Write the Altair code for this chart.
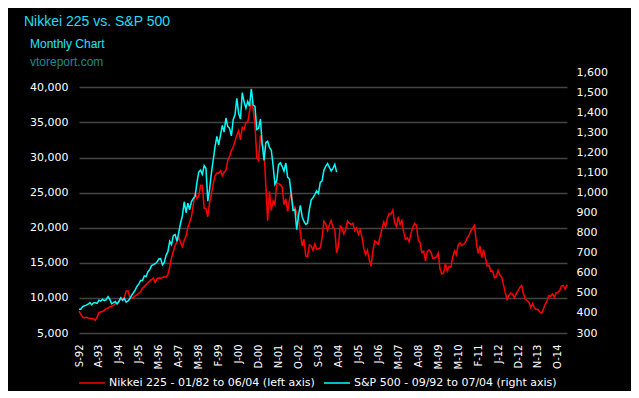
import altair as alt
import pandas as pd

x_labels = ["S-92", "A-93", "J-94", "J-95", "M-96", "A-97", "M-98", "F-99", "J-00",
            "D-00", "N-01", "O-02", "S-03", "A-04", "J-05", "J-06", "M-07", "A-08",
            "M-09", "M-10", "F-11", "J-12", "D-12", "N-13", "O-14"]

# Nikkei 225, monthly, 01/82 .. 06/04 (left axis)
nikkei = [
    8100, 7700, 7250, 7150, 7250, 7150, 7100, 7050, 7000, 6800, 7300, 7900,
    8000, 8050, 8250, 8450, 8550, 8750, 8800, 8950, 9150, 9250, 9450, 9850,
    9900, 10100, 10950, 11000, 10100, 9950, 10050, 10300, 10450, 10650, 10900, 11400,
    11600, 11900, 12200, 12400, 12600, 12800, 12200, 12750, 12850, 12800, 12900, 13050,
    12950, 13300, 14400, 15700, 16600, 17500, 18000, 18700, 17900, 17300, 18200, 18800,
    20048, 20767, 21567, 23275, 25000, 24176, 24488, 26029, 26011, 22765, 22686, 21564,
    23622, 24800, 26260, 27400, 27800, 27769, 28100, 27400, 27900, 28200, 29579, 30159,
    31000, 31500, 32300, 33200, 33800, 32500, 34300, 34000, 35000, 35000, 36600, 37800,
    37000, 34592, 29980, 29585, 33131, 31940, 31036, 25978, 20984, 25194, 22455, 23849,
    23293, 26409, 26292, 26111, 25790, 23291, 24121, 22336, 23916, 25222, 22687, 22984,
    22023, 21339, 19346, 17390, 18348, 15951, 15910, 17555, 17399, 16767, 17684, 16925,
    17024, 17113, 18591, 20919, 20552, 19590, 20380, 21027, 20106, 19703, 16408, 17417,
    20229, 19997, 19112, 19725, 20974, 20644, 20462, 20629, 19564, 19990, 19076, 19723,
    18650, 17053, 16140, 16807, 15437, 14517, 16678, 18117, 17913, 17655, 18744, 19868,
    20813, 20125, 21407, 22041, 21956, 22531, 20693, 20167, 21556, 20467, 21020, 19361,
    18330, 18557, 18003, 19151, 20068, 20605, 20331, 18229, 17888, 16459, 16636, 15259,
    16628, 16832, 16527, 15641, 15671, 15830, 16379, 14108, 13406, 13564, 14884, 13842,
    14499, 14368, 15837, 16701, 16112, 17530, 17862, 17437, 17605, 17942, 18558, 18934,
    19540, 19959, 20337, 17974, 16332, 17411, 15727, 16861, 15747, 14539, 14649, 13786,
    13843, 12884, 12999, 13934, 13262, 12969, 11861, 10714, 9775, 10367, 10697, 10543,
    9998, 10588, 11025, 11493, 11764, 10622, 9877, 9619, 9383, 8640, 9216, 8579,
    8340, 8363, 7973, 7831, 8425, 9083, 9563, 10344, 10219, 10560, 10101, 10677,
    10784, 11041, 11715, 11762, 11236, 11858,
]

# S&P 500, monthly, 09/92 .. 07/04 (right axis)
sp500 = [
    417.80, 418.68, 431.35, 435.71,
    438.78, 443.38, 451.67, 440.19, 450.19, 450.53, 448.13, 463.56, 458.93, 467.83, 461.79, 466.45,
    481.61, 467.14, 445.77, 450.91, 456.50, 444.27, 458.26, 475.49, 462.69, 472.35, 453.69, 459.27,
    470.42, 487.39, 500.71, 514.71, 533.40, 544.75, 562.06, 561.88, 584.41, 581.50, 605.37, 615.93,
    636.02, 640.43, 645.50, 654.17, 669.12, 670.63, 639.95, 651.99, 687.31, 705.27, 757.02, 740.74,
    786.16, 790.82, 757.12, 801.34, 848.28, 885.14, 954.29, 899.47, 947.28, 914.62, 955.40, 970.43,
    980.28, 1049.34, 1101.75, 1111.75, 1090.82, 1133.84, 1120.67, 957.28, 1017.01, 1098.67, 1163.63, 1229.23,
    1279.64, 1238.33, 1286.37, 1335.18, 1301.84, 1372.71, 1328.72, 1320.41, 1282.71, 1362.93, 1388.91, 1469.25,
    1394.46, 1366.42, 1498.58, 1452.43, 1420.60, 1454.60, 1430.83, 1517.68, 1436.51, 1429.40, 1314.95, 1320.28,
    1366.01, 1239.94, 1160.33, 1249.46, 1255.82, 1224.42, 1211.23, 1133.58, 1040.94, 1059.78, 1139.45, 1148.08,
    1130.20, 1106.73, 1147.39, 1076.92, 1067.14, 989.82, 911.62, 916.07, 815.28, 885.76, 936.31, 879.82,
    855.70, 841.15, 848.18, 916.92, 963.59, 974.50, 990.31, 1008.01, 995.97, 1050.71, 1058.20, 1111.92,
    1131.13, 1144.94, 1126.21, 1107.30, 1120.68, 1140.84, 1101.72,
]

NIK = "Nikkei 225 - 01/82 to 06/04 (left axis)"
SPX = "S&P 500 - 09/92 to 07/04 (right axis)"

nik_df = pd.DataFrame({"m": range(len(nikkei)), "v": nikkei, "s": NIK})
spx_df = pd.DataFrame({"m": range(len(sp500)), "v": sp500, "s": SPX})

label_expr = "[" + ",".join("'%s'" % t for t in x_labels) + "][round(datum.value / 11)]"

AX_FONT = "DejaVu Sans"
xenc = alt.X(
    "m:Q",
    scale=alt.Scale(domain=[0, 269], nice=False, zero=False),
    axis=alt.Axis(values=[11 * k for k in range(len(x_labels))], labelExpr=label_expr,
                  labelAngle=270, grid=False, domain=False, ticks=False, labelPadding=11,
                  labelFontSize=10, labelFont=AX_FONT, labelColor="#FFFFFF",
                  labelOverlap=False, labelFlush=False, title=None),
)

color = alt.Color(
    "s:N",
    scale=alt.Scale(domain=[NIK, SPX], range=["#FF0000", "#00FFFF"]),
    legend=alt.Legend(orient="none", legendX=-1, legendY=297, direction="horizontal",
                      title=None, symbolType="stroke", symbolSize=676, symbolStrokeWidth=1.5,
                      labelFont=AX_FONT, labelFontSize=11, labelColor="#FFFFFF",
                      labelOffset=3, columnPadding=6, labelLimit=400, padding=0),
)

left = alt.Chart(nik_df).mark_line(strokeWidth=1.5, interpolate="linear").encode(
    x=xenc,
    y=alt.Y("v:Q", scale=alt.Scale(domain=[5000, 42180], nice=False, zero=False),
            axis=alt.Axis(values=list(range(5000, 40001, 5000)), format=",d", grid=True,
                          gridColor="#444444", gridWidth=1.5, domain=False, ticks=False,
                          labelPadding=11, labelFontSize=11, labelFont=AX_FONT,
                          labelColor="#FFFFFF", title=None, orient="left")),
    color=color,
)

right = alt.Chart(spx_df).mark_line(strokeWidth=1.5, interpolate="linear").encode(
    x=xenc,
    y=alt.Y("v:Q", scale=alt.Scale(domain=[300, 1601], nice=False, zero=False),
            axis=alt.Axis(values=list(range(300, 1601, 100)), format=",d", grid=False,
                          domain=False, ticks=False, labelPadding=9, labelFontSize=11,
                          labelFont=AX_FONT, labelColor="#FFFFFF", title=None, orient="right")),
    color=color,
)

texts = pd.DataFrame({"t": ["Nikkei 225 vs. S&P 500", "Monthly Chart", "vtoreport.com"]})
title_t = alt.Chart(texts).transform_filter("datum.t == 'Nikkei 225 vs. S&P 500'").mark_text(
    align="left", baseline="alphabetic", font="Liberation Sans", fontSize=14, color="#22DDF8"
).encode(x=alt.value(-55), y=alt.value(-46.5), text="t:N")
sub_t = alt.Chart(texts).transform_filter("datum.t == 'Monthly Chart'").mark_text(
    align="left", baseline="alphabetic", font="Liberation Sans", fontSize=12, color="#22E6F8"
).encode(x=alt.value(-49), y=alt.value(-24.5), text="t:N")
site_t = alt.Chart(texts).transform_filter("datum.t == 'vtoreport.com'").mark_text(
    align="left", baseline="alphabetic", font="Liberation Sans", fontSize=12, color="#1F8A8A"
).encode(x=alt.value(-49), y=alt.value(-6.5), text="t:N")

chart = alt.layer(left, right, title_t, sub_t, site_t).resolve_scale(
    y="independent"
).properties(
    width=488, height=261,
    padding={"left": 71, "top": 64, "right": 64, "bottom": 58},
    autosize=alt.AutoSizeParams(type="none"),
    background="#000000",
).configure_view(stroke=None)

chart.save("out.html", embed_options={"renderer": "svg", "actions": False})
